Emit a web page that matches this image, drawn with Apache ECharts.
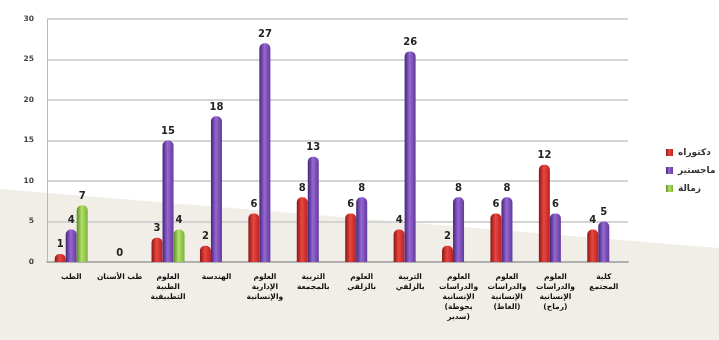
<!DOCTYPE html>
<html>
<head>
<meta charset="utf-8">
<script src="https://cdn.jsdelivr.net/npm/echarts@6/dist/echarts.min.js"></script>
<style>
	html, body { margin: 0; padding: 0; background: #fff; }
	#chart { width: 719px; height: 340px; }
</style>
</head>
<body>
<div id="chart"></div>
<script>
	// colleges (x axis)
	let colleges = [
		'الطب',
		'طب الأسنان',
		'العلوم\nالطبية\nالتطبيقية',
		'الهندسة',
		'العلوم\nالإدارية\nوالإنسانية',
		'التربية\nبالمجمعة',
		'العلوم\nبالزلفي',
		'التربية\nبالزلفي',
		'العلوم\nوالدراسات\nالإنسانية\n(بحوطة\nسدير)',
		'العلوم\nوالدراسات\nالإنسانية\n(الغاط)',
		'العلوم\nوالدراسات\nالإنسانية\n(رماح)',
		'كلية\nالمجتمع'
	];
	let seriesNames = ['دكتوراه', 'ماجستير', 'زمالة'];
	let doctorate = [1, null, 3, 2, 6, 8, 6, 4, 2, 6, 12, 4];
	let master = [4, 0, 15, 18, 27, 13, 8, 26, 8, 8, 6, 5];
	let fellowship = [7, null, 4, null, null, null, null, null, null, null, null, null];
	let yTicks = [0, 5, 10, 15, 20, 25, 30];

	let chart = echarts.init(document.getElementById('chart'));

	function cyl(dark, mid, light) {
		return new echarts.graphic.LinearGradient(0, 0, 1, 0, [
			{ offset: 0, color: dark },
			{ offset: 0.45, color: light },
			{ offset: 1, color: mid }
		]);
	}

	let font = 'DejaVu Sans';
	let valLabel = {
		show: true,
		position: 'top',
		distance: 4,
		fontFamily: font,
		fontSize: 10,
		fontWeight: 'bold',
		color: '#222'
	};

	let option = {
		backgroundColor: '#ffffff',
		animation: false,
		graphic: [{
			type: 'polygon',
			z: -10,
			shape: { points: [[0, 189], [719, 248], [719, 340], [0, 340]] },
			style: { fill: '#f1eee8' }
		}],
		legend: {
			orient: 'vertical',
			left: 661,
			top: 143,
			itemWidth: 7,
			itemHeight: 7,
			itemGap: 9,
			icon: 'rect',
			textStyle: { fontFamily: font, fontSize: 9, fontWeight: 'bold', color: '#333' },
			data: seriesNames
		},
		grid: { left: 47, right: 91, top: 19, bottom: 78 },
		xAxis: {
			type: 'category',
			data: colleges,
			axisLine: { lineStyle: { color: '#b0b0b0', width: 2 } },
			axisTick: { show: false },
			axisLabel: {
				interval: 0,
				margin: 10,
				fontFamily: font,
				fontSize: 7.5,
				fontWeight: 'bold',
				lineHeight: 10,
				color: '#111'
			}
		},
		yAxis: {
			type: 'value',
			min: yTicks[0],
			max: yTicks[yTicks.length - 1],
			interval: 5,
			axisLine: { show: true, lineStyle: { color: '#b8b8b8', width: 1 } },
			axisTick: { show: false },
			axisLabel: {
				margin: 13,
				fontFamily: font,
				fontSize: 7.5,
				fontWeight: 'bold',
				color: '#444'
			},
			splitLine: { lineStyle: { color: '#d4d4d4', width: 2 } }
		},
		series: [{
			name: seriesNames[0],
			type: 'bar',
			data: doctorate,
			barWidth: 11,
			barGap: '0%',
			itemStyle: { color: cyl('#8c1515', '#b82222', '#e8473f'), borderRadius: [5, 5, 0, 0] },
			label: valLabel
		}, {
			name: seriesNames[1],
			type: 'bar',
			data: master,
			barWidth: 11,
			itemStyle: { color: cyl('#45237a', '#643a9e', '#9468d0'), borderRadius: [5, 5, 0, 0] },
			label: valLabel
		}, {
			name: seriesNames[2],
			type: 'bar',
			data: fellowship,
			barWidth: 11,
			itemStyle: { color: cyl('#5e8a22', '#7eb236', '#b0e06a'), borderRadius: [5, 5, 0, 0] },
			label: valLabel
		}]
	};
	chart.setOption(option);
</script>
</body>
</html>
